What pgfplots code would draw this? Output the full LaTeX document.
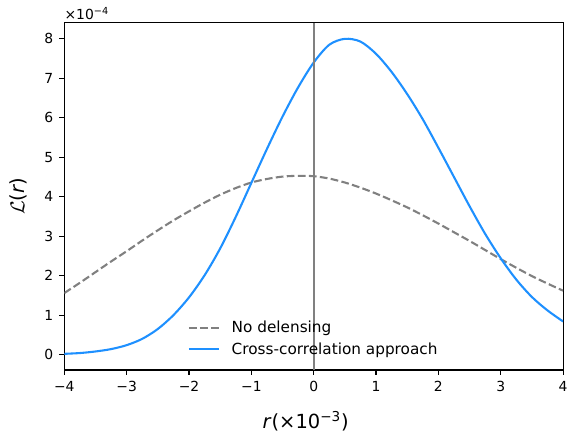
\documentclass[border=0pt]{standalone}
\usepackage{pgfplots}
\pgfplotsset{compat=1.18}
\usepackage{fontspec}
\setmainfont{DejaVu Sans}
\definecolor{dblue}{HTML}{1E90FF}
\definecolor{mgray}{HTML}{808080}
\begin{document}
\begin{tikzpicture}[x=1pt,y=1pt]
\path[use as bounding box] (0,0) rectangle (411.1,311.0);
\begin{axis}[
  at={(46.3pt,44.6pt)}, anchor=south west,
  scale only axis, width=359.1pt, height=250.1pt,
  xmin=-4, xmax=4, ymin=-0.39, ymax=8.41,
  axis line style={black, line width=0.8pt},
  xtick={-4,-3,-2,-1,0,1,2,3,4},
  xticklabels={−4,−3,−2,−1,0,1,2,3,4},
  ytick={0,1,2,3,4,5,6,7,8},
  yticklabels={0,1,2,3,4,5,6,7,8},
  xtick pos=bottom, ytick pos=left,
  tick align=outside,
  major tick length=3.5pt,
  every tick/.style={black, line width=0.8pt},
  ticklabel style={font=\fontsize{10}{12}\selectfont},
  xticklabel style={yshift=-1pt},
  yticklabel style={xshift=-1pt},
  xlabel={{\itshape r}\kern0.8pt(×10\textsuperscript{−3})},
  xlabel style={at={(rel axis cs:0.4837,0)}, anchor=base, yshift=-42.2pt, font=\fontsize{14}{16}\selectfont},
  ylabel={$\mathcal{L}$({\itshape r})},
  ylabel style={at={(rel axis cs:0,0.5)}, anchor=base, yshift=28.7pt, font=\fontsize{14}{16}\selectfont},
  legend style={draw=none, fill=none, at={(0.5,0.025)}, anchor=south,
    font=\fontsize{11}{13}\selectfont, row sep=2.5pt, column sep=7pt,
    nodes={inner sep=1.5pt}},
  legend cell align=left,
  legend image code/.code={\draw[#1] (0pt,0pt) -- (21.6pt,0pt);},
  clip mode=individual,
]
\addplot[mgray, line width=1.5pt, dash pattern=on 5.55pt off 2.4pt, smooth] coordinates {
(-4,1.56) (-3.75,1.82) (-3.5,2.09) (-3.25,2.36) (-3,2.62) (-2.75,2.89) (-2.5,3.15) (-2.25,3.40) (-2,3.63) (-1.75,3.85) (-1.5,4.05) (-1.25,4.22) (-1,4.36) (-0.75,4.45) (-0.5,4.51) (-0.25,4.53) (0,4.52) (0.25,4.46) (0.5,4.36) (0.75,4.23) (1,4.08) (1.25,3.91) (1.5,3.73) (1.75,3.53) (2,3.32) (2.25,3.10) (2.5,2.88) (2.75,2.65) (3,2.42) (3.25,2.20) (3.5,1.99) (3.75,1.80) (4,1.62)
};
\addlegendentry{No delensing}
\addplot[dblue, line width=1.5pt, smooth] coordinates {
(-4,0.02) (-3.75,0.04) (-3.5,0.08) (-3.25,0.14) (-3,0.24) (-2.75,0.40) (-2.5,0.65) (-2.25,1.00) (-2,1.45) (-1.75,2.01) (-1.5,2.69) (-1.25,3.49) (-1,4.35) (-0.75,5.21) (-0.5,6.03) (-0.25,6.77) (0,7.40) (0.25,7.85) (0.5,8.00) (0.75,7.93) (1,7.62) (1.25,7.16) (1.5,6.60) (1.75,5.96) (2,5.24) (2.25,4.50) (2.5,3.76) (2.75,3.06) (3,2.44) (3.25,1.90) (3.5,1.46) (3.75,1.12) (4,0.84)
};
\addlegendentry{Cross-correlation approach}
\draw[mgray, line width=1.5pt] (axis cs:0,-0.39) -- (axis cs:0,8.41);
\node[anchor=south west, inner sep=0pt, font=\fontsize{10}{12}\selectfont] at (rel axis cs:0,1) [yshift=2pt] {×10\textsuperscript{−4}};
\end{axis}
\end{tikzpicture}
\end{document}
